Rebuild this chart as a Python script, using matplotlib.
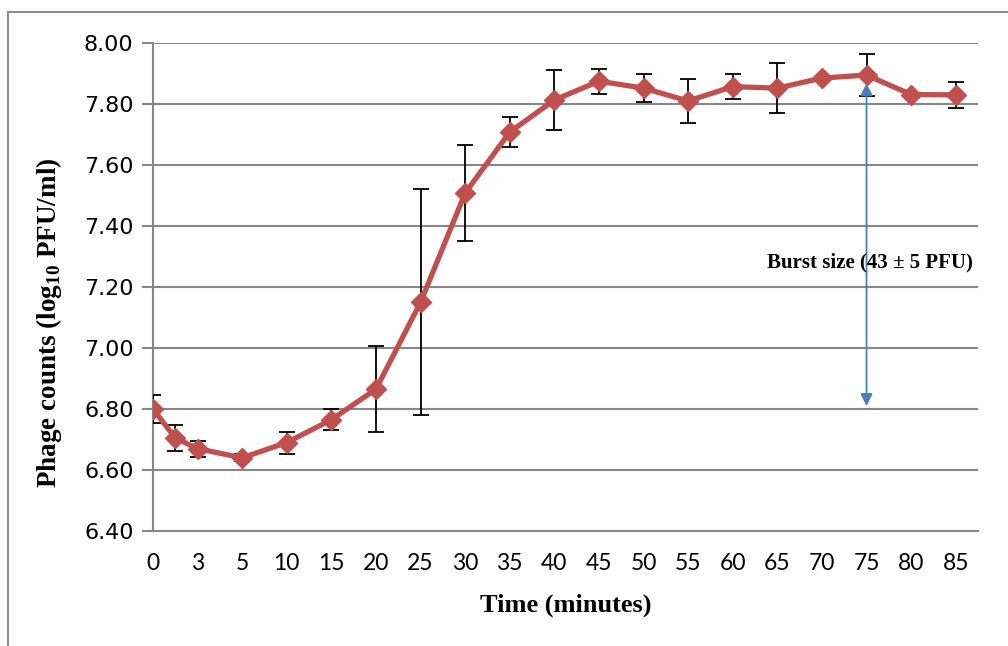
import matplotlib.pyplot as plt
from matplotlib.lines import Line2D

plt.rcParams["mathtext.fontset"] = "custom"
plt.rcParams["mathtext.bf"] = "Liberation Serif:bold"
plt.rcParams["mathtext.rm"] = "Liberation Serif:bold"

# category positions on the x axis (the 2nd point has no label)
positions = [0, 0.5, 1, 2, 3, 4, 5, 6, 7, 8, 9, 10, 11, 12, 13, 14, 15, 16, 17, 18]
tick_positions = [0, 1, 2, 3, 4, 5, 6, 7, 8, 9, 10, 11, 12, 13, 14, 15, 16, 17, 18]
tick_labels = ["0", "3", "5", "10", "15", "20", "25", "30", "35", "40", "45",
               "50", "55", "60", "65", "70", "75", "80", "85"]
counts = [6.80, 6.705, 6.67, 6.64, 6.69, 6.765, 6.865, 7.15, 7.508, 7.708, 7.813,
          7.875, 7.852, 7.81, 7.857, 7.852, 7.885, 7.895, 7.831, 7.83]
errors = [0.045, 0.042, 0.026, 0.012, 0.036, 0.035, 0.142, 0.37, 0.157, 0.048, 0.098,
          0.041, 0.047, 0.071, 0.041, 0.082, 0.0, 0.07, 0.0, 0.043]

fig = plt.figure(figsize=(10.08, 6.46), dpi=100)
ax = fig.add_axes([153 / 1008, 1 - 531 / 646, (978 - 153) / 1008, (531 - 43) / 646])

ax.errorbar(positions, counts, yerr=errors, fmt="none", ecolor="black",
            elinewidth=1.3, capsize=6, capthick=1.3, zorder=3)
ax.plot(positions, counts, color="#C0504D", linewidth=3.8, marker="D",
        markersize=10, markeredgecolor="#C0504D", zorder=4)

ax.annotate("", xy=(16, 7.868), xytext=(16, 6.81),
            arrowprops=dict(arrowstyle="<|-|>", color="#4A7EBB", lw=1.3,
                            mutation_scale=18, shrinkA=0, shrinkB=0), zorder=5)
ax.text(16.08, 7.28, "Burst size (43 \u00b1 5 PFU)", ha="center", va="center",
        fontsize=15, fontweight="bold", family="Liberation Serif", zorder=6)

ax.set_xlim(0, 18.5)
ax.set_ylim(6.4, 8.0)
ax.set_yticks([6.4, 6.6, 6.8, 7.0, 7.2, 7.4, 7.6, 7.8, 8.0])
ax.set_yticklabels([f"{v:.2f}" for v in [6.4, 6.6, 6.8, 7.0, 7.2, 7.4, 7.6, 7.8, 8.0]],
                   fontsize=16, family="DejaVu Sans")
ax.set_xticks(tick_positions)
ax.set_xticklabels(tick_labels, fontsize=16.5, family="Lato")
ax.tick_params(axis="x", length=0, pad=16)
ax.tick_params(axis="y", length=8, width=1.5, color="#878787", pad=6)
ax.yaxis.grid(True, color="#878787", linewidth=1.5)
ax.set_axisbelow(True)
for side in ["top", "right"]:
    ax.spines[side].set_visible(False)
for side in ["left", "bottom"]:
    ax.spines[side].set_color("#878787")
    ax.spines[side].set_linewidth(1.5)

ax.set_xlabel("Time (minutes)", fontsize=19, fontweight="bold",
              family="Liberation Serif", labelpad=14)
ax.set_ylabel("Phage counts (log$_{\\mathbf{10}}$ PFU/ml)", fontsize=19.5, fontweight="bold",
              family="Liberation Serif")
ax.yaxis.set_label_coords(-0.108, 0.426)

# outer frame lines (top and left)
fig.add_artist(Line2D([8 / 1008, 8 / 1008], [0, 1 - 12 / 646], color="#8c8c8c", lw=1.5))
fig.add_artist(Line2D([8 / 1008, 1], [1 - 12 / 646, 1 - 12 / 646], color="#8c8c8c", lw=1.5))

fig.savefig("out.png", dpi=100)
